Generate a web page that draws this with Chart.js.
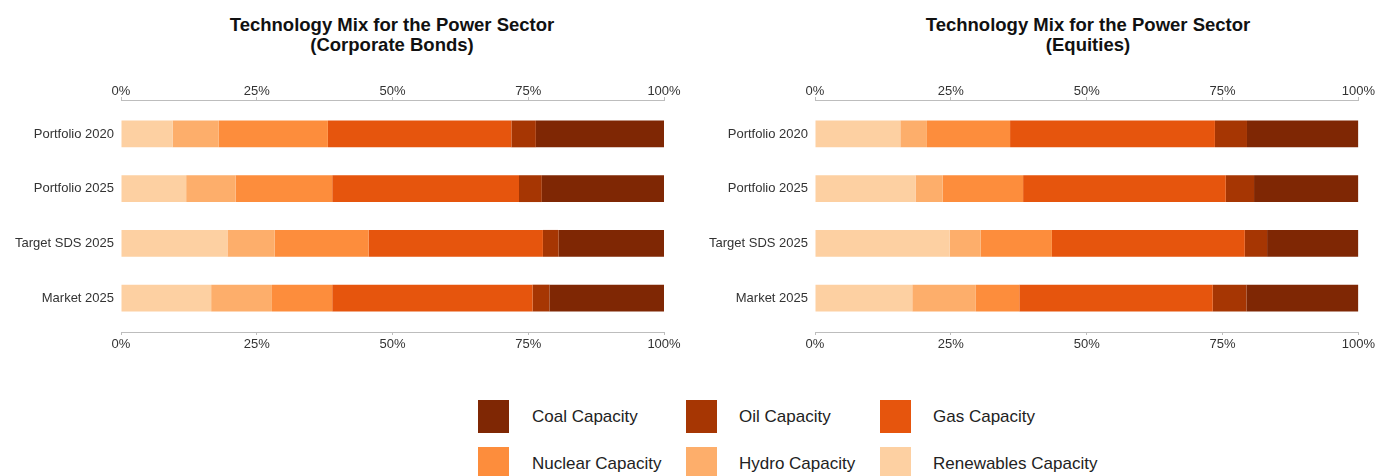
<!DOCTYPE html>
<html>
<head>
<meta charset="utf-8">
<script src="https://cdn.jsdelivr.net/npm/chart.js@4.4.1/dist/chart.umd.min.js"></script>
<style>
  html, body { margin: 0; padding: 0; background: #fff; }
  body { width: 1377px; height: 476px; position: relative; overflow: hidden; font-family: "Liberation Sans", Arial, sans-serif; }
  .box { position: absolute; }
  .title { position: absolute; top: 15px; width: 500px; text-align: center; font-weight: bold; font-size: 18.5px; line-height: 20px; color: #111; }
  .key { position: absolute; width: 31px; height: 33px; }
  .lab { position: absolute; font-size: 17px; line-height: 33px; color: #222; white-space: nowrap; }
</style>
</head>
<body>
<div class="title" style="left:142px;">Technology Mix for the Power Sector<br>(Corporate Bonds)</div>
<div class="title" style="left:838px;">Technology Mix for the Power Sector<br>(Equities)</div>
<div class="box" style="left:0px; top:60px; width:688px; height:300px;"><canvas id="c1"></canvas></div>
<div class="box" style="left:690px; top:60px; width:687px; height:300px;"><canvas id="c2"></canvas></div>
<div id="legend"></div>
<script>
// ---- data ----
const categories = ["Portfolio 2020", "Portfolio 2025", "Target SDS 2025", "Market 2025"];
const seriesNames = ["Renewables Capacity", "Hydro Capacity", "Nuclear Capacity", "Gas Capacity", "Oil Capacity", "Coal Capacity"];
const xTicks = [0, 25, 50, 75, 100];

// Corporate bonds (% share)
const bondsRenewables = [9.5, 12.0, 19.6, 16.6];
const bondsHydro      = [8.5, 9.1, 8.7, 11.2];
const bondsNuclear    = [20.1, 17.8, 17.3, 11.1];
const bondsGas        = [33.8, 34.4, 32.1, 36.9];
const bondsOil        = [4.5, 4.2, 2.9, 3.1];
const bondsCoal       = [23.6, 22.5, 19.4, 21.1];

// Equities (% share)
const eqRenewables = [15.7, 18.5, 24.8, 17.9];
const eqHydro      = [4.9, 5.0, 5.7, 11.7];
const eqNuclear    = [15.3, 14.8, 13.1, 8.0];
const eqGas        = [37.7, 37.3, 35.5, 35.6];
const eqOil        = [5.9, 5.2, 4.1, 6.2];
const eqCoal       = [20.5, 19.2, 16.8, 20.6];

// ---- styles ----
const palette = ["#FDD0A2", "#FDAE6B", "#FD8D3C", "#E6550D", "#A63603", "#7F2704"];
const FONT = "'Liberation Sans', Arial, sans-serif";
const axisColor = "#bdbdbd";
const textColor = "#333";

function makeDatasets(seriesArrays) {
  return seriesArrays.map((arr, s) => ({
    label: seriesNames[s],
    data: arr.map((v, i) => ({ x: v, y: i })),
    backgroundColor: palette[s],
    borderWidth: 0,
    barPercentage: 0.49,
    categoryPercentage: 1.0,
    xAxisID: 'x',
    yAxisID: 'y'
  }));
}

function makeChart(id, seriesArrays, yWidth, padRight) {
  const xCommon = (pos, fitH, pad) => ({
    type: 'linear',
    position: pos,
    min: 0, max: 100,
    stacked: pos === 'bottom',
    afterBuildTicks: (sc) => { sc.ticks = xTicks.map(v => ({ value: v })); },
    afterFit: (sc) => { sc.height = fitH; },
    grid: { display: true, drawOnChartArea: false, drawTicks: true, tickLength: 3, color: axisColor, lineWidth: 1 },
    border: { display: true, color: axisColor, width: 1 },
    ticks: { padding: pad, color: textColor, font: { family: FONT, size: 13 }, maxRotation: 0, autoSkip: false,
             callback: (v) => v + '%' }
  });
  return new Chart(document.getElementById(id), {
    type: 'bar',
    data: { datasets: makeDatasets(seriesArrays) },
    options: {
      indexAxis: 'y',
      responsive: true,
      maintainAspectRatio: false,
      animation: false,
      layout: { padding: { left: 0, right: padRight, top: 0, bottom: 0 } },
      plugins: { legend: { display: false }, title: { display: false }, tooltip: { enabled: false } },
      scales: {
        x: xCommon('bottom', 28, 2),
        xTop: xCommon('top', 40, -2),
        y: {
          type: 'linear',
          stacked: true,
          reverse: true,
          offset: false,
          min: -0.62, max: 3.62,
          afterBuildTicks: (sc) => { sc.ticks = categories.map((c, i) => ({ value: i })); },
          afterFit: (sc) => { sc.width = yWidth; },
          grid: { display: false, drawTicks: false },
          border: { display: false },
          ticks: { padding: 7, color: textColor, font: { family: FONT, size: 13 }, autoSkip: false,
                   callback: (v) => categories[v] }
        }
      }
    }
  });
}

makeChart('c1', [bondsRenewables, bondsHydro, bondsNuclear, bondsGas, bondsOil, bondsCoal], 121, 24);
makeChart('c2', [eqRenewables, eqHydro, eqNuclear, eqGas, eqOil, eqCoal], 125, 16);

// ---- legend (built from series names and palette) ----
const legendOrder = [5, 4, 3, 2, 1, 0]; // Coal, Oil, Gas / Nuclear, Hydro, Renewables
const colKeyX = [478, 686, 880];
const colTextX = [532, 739, 933];
const rowY = [400, 447];
const leg = document.getElementById('legend');
legendOrder.forEach((s, k) => {
  const col = k % 3, row = Math.floor(k / 3);
  const key = document.createElement('div');
  key.className = 'key';
  key.style.left = colKeyX[col] + 'px';
  key.style.top = rowY[row] + 'px';
  key.style.background = palette[s];
  leg.appendChild(key);
  const lab = document.createElement('div');
  lab.className = 'lab';
  lab.style.left = colTextX[col] + 'px';
  lab.style.top = rowY[row] + 'px';
  lab.textContent = seriesNames[s];
  leg.appendChild(lab);
});
</script>
</body>
</html>
